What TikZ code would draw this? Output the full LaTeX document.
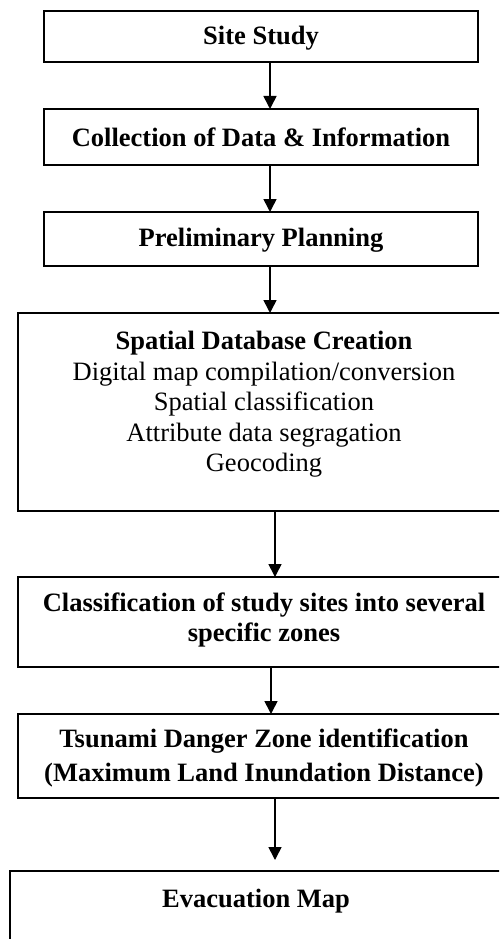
\documentclass[tikz,border=0pt]{standalone}
\usepackage{fontspec}
\setmainfont{Liberation Serif}
\usetikzlibrary{arrows.meta}
\begin{document}
\begin{tikzpicture}[x=1pt,y=-1pt,
  box/.style={draw, line width=1.6pt, rectangle, inner sep=0pt, outer sep=0pt},
  lbl/.style={align=center, font=\fontsize{26.5}{30.5}\selectfont, inner sep=0pt},
  arr/.style={line width=1.6pt, -{Triangle[width=13pt,length=13pt]}}]
\useasboundingbox (0,0) rectangle (499,939);
\clip (0,0) rectangle (499,939);
\node[box, minimum width=434pt, minimum height=51pt] (b1) at (261,36.5) {};
\node[box, minimum width=434pt, minimum height=56pt] (b2) at (261,137) {};
\node[box, minimum width=434pt, minimum height=54pt] (b3) at (261,239) {};
\node[box, minimum width=492pt, minimum height=198pt] (b4) at (264,412) {};
\node[box, minimum width=492pt, minimum height=90pt] (b5) at (264,622) {};
\node[box, minimum width=492pt, minimum height=84pt] (b6) at (264,756) {};
\node[box, minimum width=493pt, minimum height=99pt] (b7) at (256.5,920.5) {};
\node[lbl] (t1) at (261,38) {\bfseries Site Study};
\node[lbl] (t2) at (b2.center) {\bfseries Collection of Data \& Information};
\node[lbl] (t3) at (261,240) {\bfseries Preliminary Planning};
\node[lbl, anchor=north] (t4) at (264,331) {\textbf{Spatial Database Creation}\\Digital map compilation/conversion\\Spatial classification\\Attribute data segragation\\Geocoding};
\node[lbl] (t5) at (264,620) {\bfseries Classification of study sites into several\\\bfseries specific zones};
\node[lbl, font=\fontsize{26.5}{34.5}\selectfont] (t6) at (264,758) {\bfseries Tsunami Danger Zone identification\\\bfseries (Maximum Land Inundation Distance)};
\node[lbl] (t7) at (256,901) {\bfseries Evacuation Map};
\draw[arr] ([xshift=9pt]b1.south) -- ([xshift=9pt]b2.north);
\draw[arr] ([xshift=9pt]b2.south) -- ([xshift=9pt]b3.north);
\draw[arr] ([xshift=9pt]b3.south) -- ([xshift=6pt]b4.north);
\draw[arr] ([xshift=11pt]b4.south) -- ([xshift=11pt]b5.north);
\draw[arr] ([xshift=7pt]b5.south) -- ([xshift=7pt]b6.north);
\draw[arr] ([xshift=11pt]b6.south) -- ([xshift=18.5pt,yshift=11pt]b7.north);
\end{tikzpicture}
\end{document}
